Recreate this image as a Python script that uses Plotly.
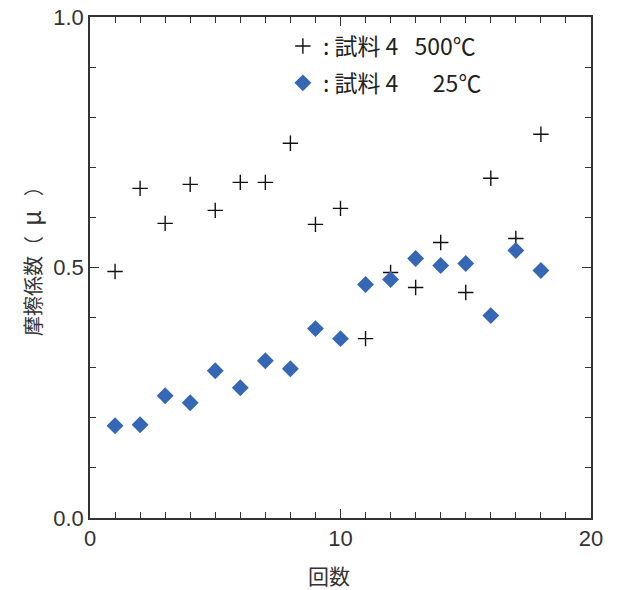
import plotly.graph_objects as go

cycles = list(range(1, 19))
mu_500 = [0.492, 0.658, 0.588, 0.666, 0.614, 0.670, 0.670, 0.748, 0.586,
          0.618, 0.358, 0.490, 0.460, 0.550, 0.450, 0.678, 0.558, 0.766]
mu_25 = [0.184, 0.186, 0.244, 0.230, 0.294, 0.260, 0.314, 0.298, 0.378,
         0.358, 0.466, 0.476, 0.518, 0.504, 0.508, 0.404, 0.534, 0.494]
name_500 = ": 試料 4\u2002\u2009500℃"
name_25 = ": 試料 4\u3000\u200225℃"
x_title = "回数"
y_title = "摩擦係数（\u2002<span style='font-size:25px'>μ</span>\u2002\u2009）"

jp = "Noto Sans CJK JP"
num = "Liberation Sans, Noto Sans CJK JP"

fig = go.Figure()
fig.add_trace(go.Scatter(x=cycles, y=mu_500, mode="markers", name=name_500,
                         legendgroup="a",
                         marker=dict(symbol="cross-thin", size=11, color="#111",
                                     line=dict(width=1.4, color="#111"))))
fig.add_trace(go.Scatter(x=cycles, y=mu_25, mode="markers", name=name_25,
                         legendgroup="b",
                         marker=dict(symbol="diamond", size=13, color="#3567b4",
                                     line=dict(width=0))))

axis_common = dict(showline=True, linecolor="#333", linewidth=1.5, mirror="ticks",
                   ticks="inside", tickcolor="#333", ticklen=9, tickwidth=1.3,
                   showgrid=False, zeroline=False, ticklabeloverflow="allow",
                   automargin=False,
                   tickfont=dict(family=num, size=22, color="#333"))

fig.update_xaxes(range=[0, 20], dtick=10, tick0=0,
                 minor=dict(dtick=1, ticks="inside", ticklen=6, tickcolor="#333", tickwidth=1.2),
                 **axis_common)
fig.update_yaxes(range=[0, 1.0], dtick=0.5, tick0=0, tickformat=".1f",
                 minor=dict(dtick=0.1, ticks="inside", ticklen=6, tickcolor="#333", tickwidth=1.2),
                 **axis_common)

fig.add_annotation(text=x_title, xref="paper", yref="paper", x=0.477, y=-0.114,
                   xanchor="center", yanchor="middle", showarrow=False,
                   font=dict(family=jp, size=21, color="#333"))
fig.add_annotation(text=y_title, xref="paper", yref="paper", x=-0.12, y=0.359,
                   xanchor="center", yanchor="bottom", showarrow=False, textangle=-90,
                   font=dict(family=jp, size=20, color="#333"))

fig.update_layout(width=618, height=590, margin=dict(l=90, r=27, t=17, b=72, autoexpand=False),
                  plot_bgcolor="white", paper_bgcolor="white",
                  legend=dict(x=0.385, y=0.985, xanchor="left", yanchor="top",
                              bgcolor="rgba(0,0,0,0)", font=dict(family=jp, size=23, color="#222"),
                              itemwidth=30, traceorder="grouped", tracegroupgap=4),
                  showlegend=True)

fig.write_html("out.html", config={"displayModeBar": False},
               post_script="document.body.style.margin='0';document.body.style.overflow='hidden';")
